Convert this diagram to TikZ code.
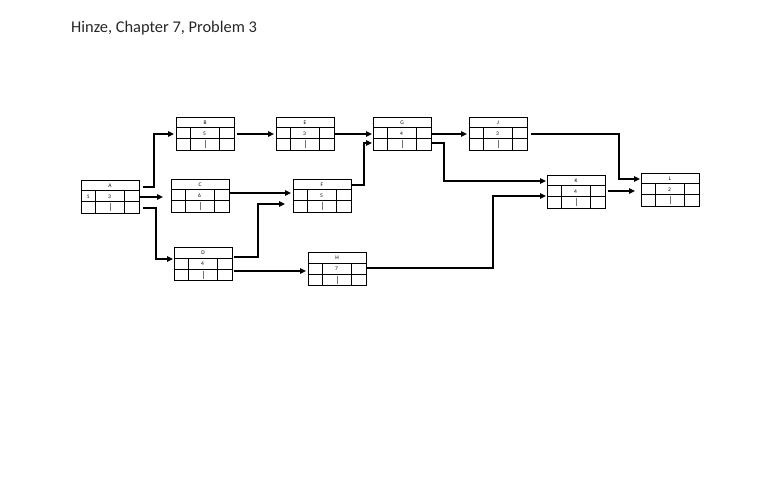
\documentclass[tikz,border=0pt]{standalone}
\usepackage{fontspec}
\setmainfont{Carlito}
\usetikzlibrary{calc,arrows.meta}
\tikzset{
  actbox/.style={draw=black, line width=1.1pt, minimum width=58pt, minimum height=33pt, inner sep=0pt, anchor=north west},
  cellline/.style={line width=1pt},
  tickline/.style={line width=0.4pt, black!55},
  cell/.style={font=\fontsize{5.5}{6}\selectfont, inner sep=0pt},
  conn/.style={line width=1.9pt, -{Triangle[length=6pt,width=5.5pt]}},
  title/.style={font=\fontsize{16.4}{18}\selectfont, text=black!85, anchor=base west, inner sep=0pt}
}
\newcommand{\actnode}[6]{% name, left x, top y, label, duration, left cell
  \node[actbox] (#1) at (#2,#3) {};
  \draw[cellline] ($(#1.north west)+(0,11)$) -- ($(#1.north east)+(0,11)$);
  \draw[cellline] ($(#1.north west)+(0,22)$) -- ($(#1.north east)+(0,22)$);
  \draw[cellline] ($(#1.north west)+(14,11)$) -- ($(#1.north west)+(14,33)$);
  \draw[cellline] ($(#1.north west)+(43,11)$) -- ($(#1.north west)+(43,33)$);
  \draw[tickline] ($(#1.north west)+(29,23.5)$) -- ($(#1.north west)+(29,31.5)$);
  \node[cell] (#1-lab) at ($(#1.north west)+(29,5.5)$) {#4};
  \node[cell] (#1-dur) at ($(#1.north west)+(28.5,16.5)$) {#5};
  \node[cell] (#1-es) at ($(#1.north west)+(7,16.5)$) {#6};
}
\begin{document}
\begin{tikzpicture}[x=1pt,y=-1pt]
\useasboundingbox (0,0) rectangle (768,497);
\node[title] (title) at (71,33) {Hinze, Chapter 7, Problem 3};

\actnode{A}{81}{180}{A}{3}{1}
\actnode{B}{176}{117}{B}{5}{}
\actnode{C}{171}{179}{C}{6}{}
\actnode{D}{174}{247}{D}{4}{}
\actnode{E}{276}{117}{E}{3}{}
\actnode{F}{293}{179}{F}{5}{}
\actnode{G}{373}{117}{G}{4}{}
\actnode{H}{308}{252}{H}{7}{}
\actnode{J}{469}{117}{J}{3}{}
\actnode{K}{547}{175}{K}{4}{}
\actnode{L}{641}{173}{L}{2}{}

% connectors
\draw[conn] ($(A.north east)+(3,7)$) -- ++(11,0) |- ($(B.north west)+(-2,17)$);
\draw[conn] ($(A.north east)+(0,17)$) -- ($(C.north west)+(-8,18)$);
\draw[conn] ($(A.north east)+(3,28)$) -- ++(13,0) |- ($(D.north west)+(-1,12)$);
\draw[conn] ($(B.north east)+(2,17)$) -- ($(E.north west)+(-2,17)$);
\draw[conn] ($(E.north east)+(0,17)$) -- ($(G.north west)+(-1,17)$);
\draw[conn] ($(C.north east)+(0,14)$) -- ($(F.north west)+(-2,14)$);
\draw[conn] ($(D.north east)+(1,10)$) -- ++(24,0) |- ($(F.north west)+(-8,25)$);
\draw[conn] ($(F.north east)+(0,6)$) -- ++(12,0) |- ($(G.north west)+(-1,26)$);
\draw[conn] ($(G.north east)+(0,17)$) -- ($(J.north west)+(-2,17)$);
\draw[conn] ($(G.north east)+(0,26)$) -- ++(12,0) |- ($(K.north west)+(-1,6)$);
\draw[conn] ($(J.north east)+(3,17)$) -- ++(88,0) |- ($(L.north west)+(-1,6)$);
\draw[conn] ($(H.north east)+(0,16)$) -- ++(126,0) |- ($(K.north west)+(-1,21)$);
\draw[conn] ($(K.north east)+(2,16)$) -- ($(L.north west)+(-6,18)$);
\draw[conn] ($(D.north east)+(1,24)$) -- ($(H.north west)+(-2,19)$);
\end{tikzpicture}
\end{document}
